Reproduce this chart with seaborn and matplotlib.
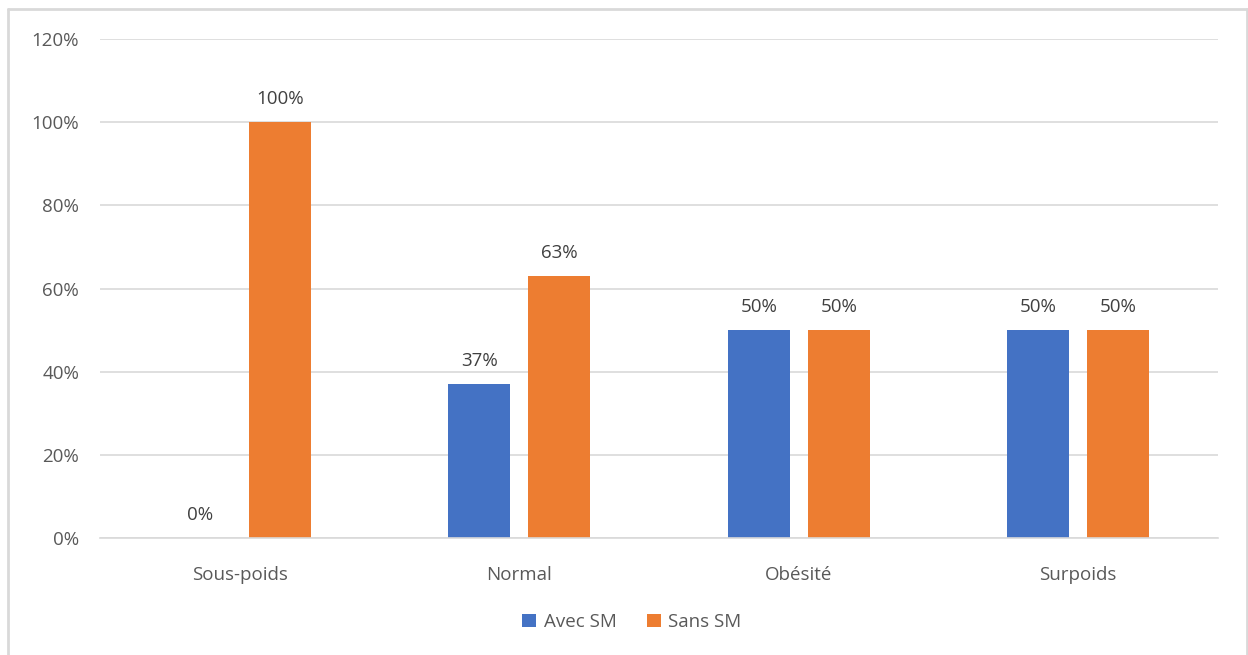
import matplotlib
matplotlib.use("Agg")
import matplotlib.pyplot as plt
import seaborn as sns
import pandas as pd
from matplotlib.lines import Line2D
from matplotlib.patches import Patch

categories = ["Sous-poids", "Normal", "Obésité", "Surpoids"]
avec_sm = [0, 37, 50, 50]
sans_sm = [100, 63, 50, 50]
series = ["Avec SM", "Sans SM"]
colors = ["#4472C4", "#ED7D31"]
y_ticks = [0, 20, 40, 60, 80, 100, 120]

df = pd.DataFrame({
    "cat": categories * 2,
    "val": avec_sm + sans_sm,
    "serie": [series[0]] * len(categories) + [series[1]] * len(categories),
})

sns.set_theme(style="white")
plt.rcParams["font.family"] = ["Open Sans", "DejaVu Sans"]
text_col = "#595959"
fs = 13.5

fig = plt.figure(figsize=(12.48, 6.55), dpi=100)
ax = fig.add_axes([100 / 1248, 1 - 538 / 655, 1118 / 1248, 499 / 655])

sns.barplot(data=df, x="cat", y="val", hue="serie", palette=colors,
            width=0.572, gap=0.225, ax=ax, legend=False, saturation=1,
            linewidth=0, edgecolor="none")

ax.set_ylim(0, 120)
ax.set_xlim(-0.5, len(categories) - 0.5)
ax.set_yticks(y_ticks)
ax.set_yticklabels([f"{t}%" for t in y_ticks], color=text_col, fontsize=fs)
ax.tick_params(axis="x", colors=text_col, labelsize=fs, length=0, pad=20)
ax.tick_params(axis="y", length=0, pad=15)
ax.set_xlabel("")
ax.set_ylabel("")
ax.yaxis.grid(True, color="#D9D9D9", linewidth=1.2)
ax.set_axisbelow(True)
for s in ["top", "right", "left"]:
    ax.spines[s].set_visible(False)
ax.spines["bottom"].set_color("#D9D9D9")
ax.spines["bottom"].set_linewidth(1.2)

for container in ax.containers:
    ax.bar_label(container, labels=[f"{v:.0f}%" for v in container.datavalues],
                 padding=10, color="#404040", fontsize=fs)

handles = [Patch(facecolor=c, edgecolor="none") for c in colors]
fig.legend(handles, series, loc="center", bbox_to_anchor=(632 / 1248, 1 - 622 / 655),
           ncol=2, frameon=False, fontsize=fs, labelcolor=text_col,
           handlelength=0.75, handleheight=0.75, handletextpad=0.4, columnspacing=1.6)

# outer frame
frame_kw = dict(transform=fig.transFigure, color="#D9D9D9", linewidth=2)
fig.add_artist(Line2D([8 / 1248, 8 / 1248], [0, 1 - 9 / 655], **frame_kw))
fig.add_artist(Line2D([8 / 1248, 1247 / 1248], [1 - 9 / 655, 1 - 9 / 655], **frame_kw))
fig.add_artist(Line2D([1247 / 1248, 1247 / 1248], [0, 1 - 9 / 655], **frame_kw))

fig.savefig("out.png", dpi=100)
